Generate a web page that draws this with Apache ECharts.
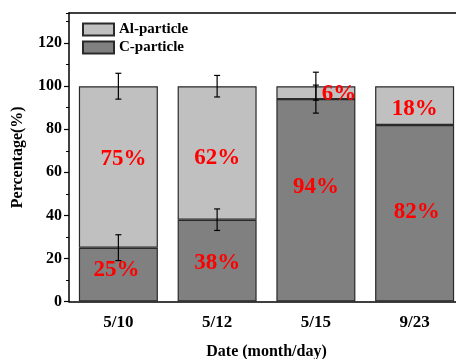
<!DOCTYPE html>
<html>
<head>
<meta charset="utf-8">
<script src="https://cdn.jsdelivr.net/npm/echarts@6/dist/echarts.min.js"></script>
<style>
  html, body { margin: 0; padding: 0; background: #fff; }
  #chart { width: 456px; height: 359px; }
</style>
</head>
<body>
<div id="chart"></div>
<script>
// Particle composition by sampling date
const categories = ['5/10', '5/12', '5/15', '9/23'];
const cParticle = [25, 38, 94, 82];
const alParticle = [75, 62, 6, 18];
// standard deviations (null = not measured)
const cError = [6, 5, 6.5, null];
const totalError = [6, 5, 6.5, null];
const yTicks = [0, 20, 40, 60, 80, 100, 120];

const serif = '"Liberation Serif", "Times New Roman", serif';
const labelFont = { fontFamily: serif, fontWeight: 'bold', fontSize: 23, color: '#ff0000' };

// label nudges inside each segment, [dx, dy] in px
const cLabelShift = [[-2, -5], [0, 2], [0, -13], [2, -1]];
const alLabelShift = [[5, -8], [0, 5], [23, 1], [0, 3]];

function segmentData(values, shifts) {
  return values.map((v, i) => ({
    value: v,
    label: { show: true, position: 'inside', offset: shifts[i], formatter: v + '%', ...labelFont }
  }));
}

// error bars: [category index, centre value, deviation]
const errorData = [];
categories.forEach((c, i) => {
  if (cError[i] != null) errorData.push([i, cParticle[i], cError[i]]);
  if (totalError[i] != null) errorData.push([i, cParticle[i] + alParticle[i], totalError[i]]);
});

const axisLineStyle = { color: '#000', width: 1.5 };

const chart = echarts.init(document.getElementById('chart'), null, { renderer: 'canvas' });
chart.setOption({
  animation: false,
  backgroundColor: '#fff',
  grid: { left: 69, top: 13, width: 395, height: 288.5, containLabel: false, outerBoundsMode: 'none' },
  legend: {
    orient: 'vertical',
    left: 77, top: 17,
    itemWidth: 31, itemHeight: 12, itemGap: 3,
    icon: 'rect',
    data: ['Al-particle', 'C-particle'],
    textStyle: { fontFamily: serif, fontWeight: 'bold', fontSize: 15, color: '#000' }
  },
  xAxis: [
    {
      type: 'category', data: categories, position: 'bottom',
      name: 'Date (month/day)', nameLocation: 'middle', nameGap: 42,
      nameTextStyle: { fontFamily: serif, fontWeight: 'bold', fontSize: 16, color: '#000' },
      axisLine: { lineStyle: axisLineStyle },
      axisTick: { alignWithLabel: true, length: 5, lineStyle: { color: '#000', width: 1.2 } },
      axisLabel: { margin: 13, fontFamily: serif, fontWeight: 'bold', fontSize: 17, color: '#000' },
      splitLine: { show: false }
    },
    {
      type: 'category', data: categories, position: 'bottom',
      axisLine: { show: false },
      axisTick: { inside: true, length: 2, lineStyle: { color: '#000', width: 1 } },
      axisLabel: { show: false }, splitLine: { show: false }
    },
    {
      type: 'category', data: categories, position: 'top',
      axisLine: { lineStyle: axisLineStyle },
      axisTick: { inside: true, alignWithLabel: true, length: 3, lineStyle: { color: '#000', width: 1 } },
      axisLabel: { show: false }, splitLine: { show: false }
    },
    {
      type: 'category', data: categories, position: 'top',
      axisLine: { show: false },
      axisTick: { inside: true, length: 3, lineStyle: { color: '#000', width: 1 } },
      axisLabel: { show: false }, splitLine: { show: false }
    }
  ],
  yAxis: [
    {
      type: 'value', min: 0, max: 134, interval: 20,
      name: 'Percentage(%)', nameLocation: 'middle', nameGap: 43, nameRotate: 90,
      nameTextStyle: { fontFamily: serif, fontWeight: 'bold', fontSize: 16, color: '#000' },
      axisLine: { show: true, lineStyle: axisLineStyle },
      axisTick: { show: true, length: 5, lineStyle: { color: '#000', width: 1.2 } },
      axisLabel: {
        margin: 7, showMaxLabel: false,
        fontFamily: serif, fontWeight: 'bold', fontSize: 16, color: '#000',
        formatter: v => (yTicks.includes(v) ? String(v) : '')
      },
      splitLine: { show: false }
    },
    {
      type: 'value', min: 0, max: 134, interval: 10, position: 'left',
      axisLine: { show: false },
      axisTick: { show: true, length: 3, lineStyle: { color: '#000', width: 1 } },
      axisLabel: { show: false }, splitLine: { show: false }
    }
  ],
  series: [
    {
      name: 'C-particle', type: 'bar', stack: 'total', barWidth: '80%',
      xAxisIndex: 0, yAxisIndex: 0,
      itemStyle: { color: '#808080', borderColor: '#2a2a2a', borderWidth: 1.2 },
      data: segmentData(cParticle, cLabelShift)
    },
    {
      name: 'Al-particle', type: 'bar', stack: 'total', barWidth: '80%',
      xAxisIndex: 0, yAxisIndex: 0,
      itemStyle: { color: '#c0c0c0', borderColor: '#2a2a2a', borderWidth: 1.2 },
      data: segmentData(alParticle, alLabelShift)
    },
    {
      name: 'error', type: 'custom', xAxisIndex: 0, yAxisIndex: 0, z: 10,
      data: errorData,
      renderItem: function (params, api) {
        const i = api.value(0), c = api.value(1), e = api.value(2);
        const top = api.coord([i, c + e]);
        const bot = api.coord([i, c - e]);
        const half = 3;
        const style = { stroke: '#000', lineWidth: 1.2 };
        return {
          type: 'group',
          children: [
            { type: 'line', shape: { x1: top[0], y1: top[1], x2: bot[0], y2: bot[1] }, style },
            { type: 'line', shape: { x1: top[0] - half, y1: top[1], x2: top[0] + half, y2: top[1] }, style },
            { type: 'line', shape: { x1: bot[0] - half, y1: bot[1], x2: bot[0] + half, y2: bot[1] }, style }
          ]
        };
      }
    }
  ]
});
</script>
</body>
</html>
